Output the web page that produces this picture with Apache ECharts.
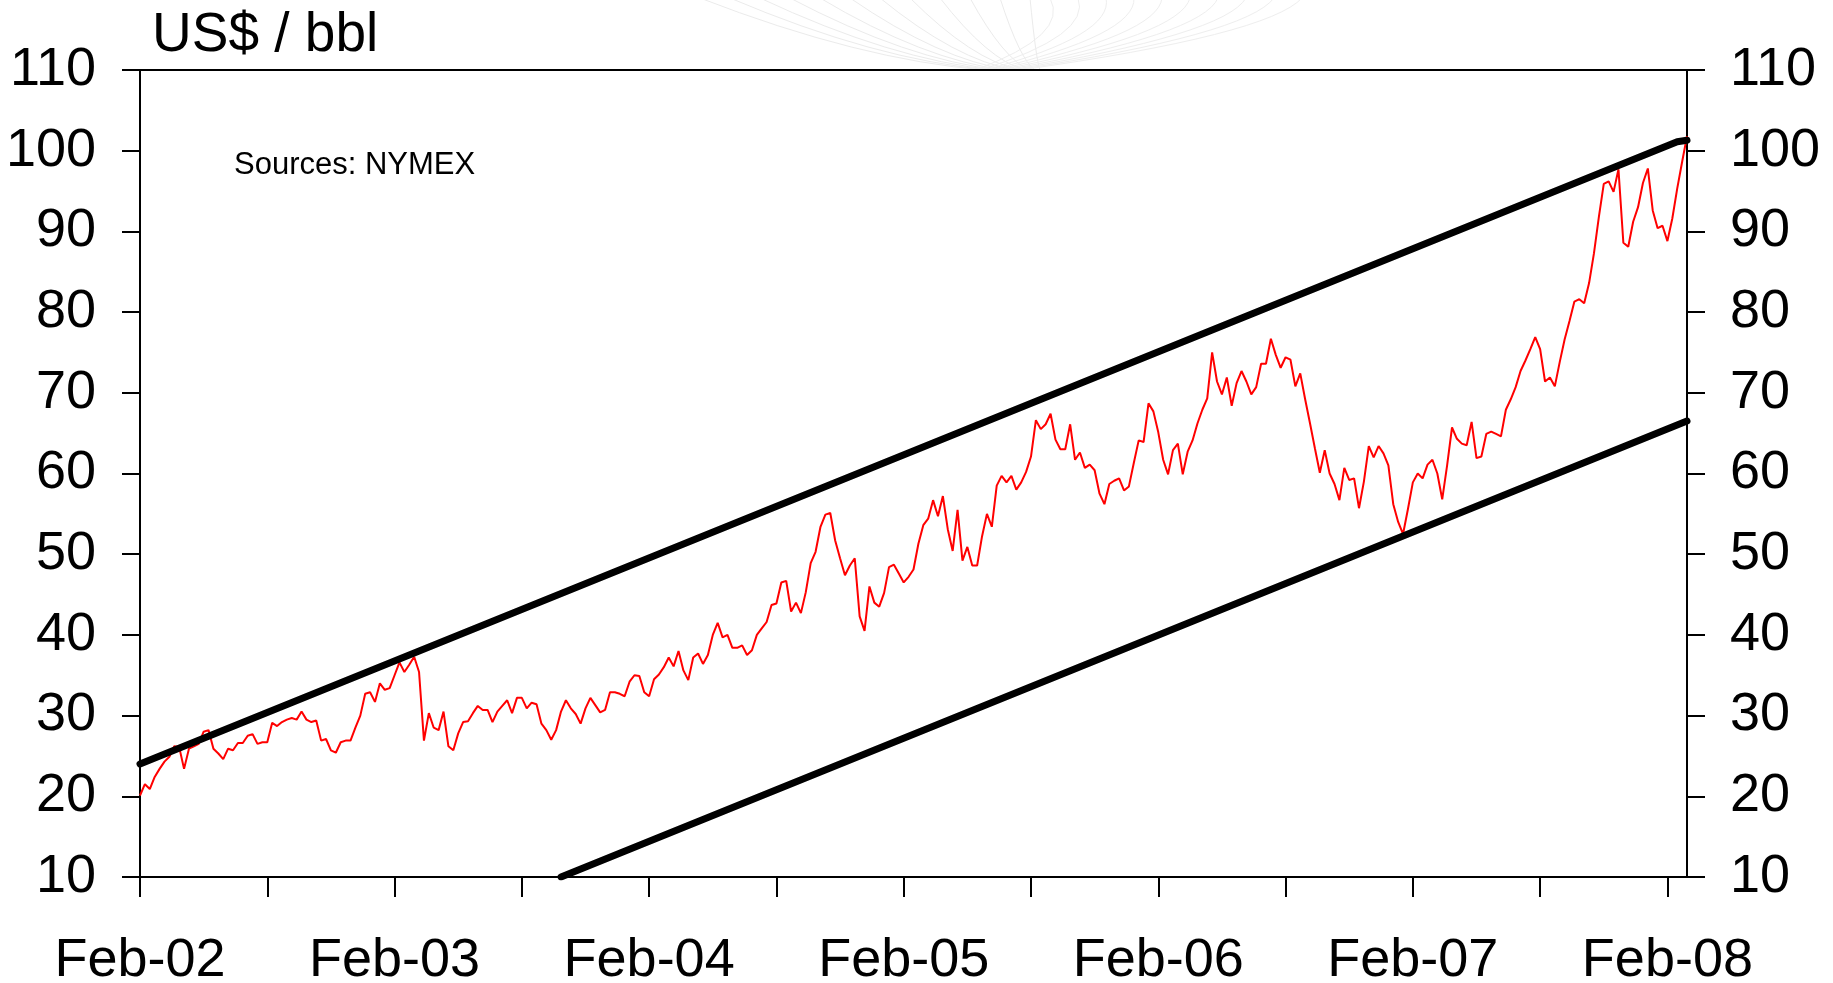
<!DOCTYPE html>
<html>
<head>
<meta charset="utf-8">
<title>US$ / bbl</title>
<script src="https://cdn.jsdelivr.net/npm/echarts@6/dist/echarts.min.js"></script>
<style>
  html, body { margin: 0; padding: 0; background: #fff; }
  #chart { width: 1833px; height: 983px; }
</style>
</head>
<body>
<div id="chart"></div>
<script>
// weekly NYMEX crude, Friday closes, first point early Feb 2002
const prices = [
  20.1, 21.5, 20.9, 22.4, 23.4, 24.3, 24.9, 26.2, 26.1, 23.4,
  25.9, 26.2, 26.5, 28.0, 28.2, 25.9, 25.3, 24.6, 25.9, 25.7,
  26.6, 26.6, 27.5, 27.7, 26.5, 26.7, 26.7, 29.1, 28.7, 29.2,
  29.5, 29.7, 29.5, 30.5, 29.5, 29.2, 29.4, 26.9, 27.1, 25.7,
  25.4, 26.7, 26.9, 26.9, 28.5, 30.0, 32.7, 32.9, 31.7, 34.0,
  33.2, 33.4, 35.0, 36.6, 35.4, 36.3, 37.3, 35.4, 26.9, 30.3,
  28.5, 28.2, 30.5, 26.2, 25.7, 27.8, 29.2, 29.3, 30.3, 31.2,
  30.7, 30.7, 29.2, 30.5, 31.2, 31.9, 30.3, 32.2, 32.2, 30.9,
  31.6, 31.4, 29.0, 28.2, 27.0, 28.2, 30.5, 31.9, 30.9, 30.2,
  29.0, 30.9, 32.2, 31.3, 30.4, 30.7, 32.9, 32.9, 32.7, 32.4,
  34.2, 35.0, 34.9, 32.9, 32.4, 34.5, 35.1, 36.0, 37.2, 36.1,
  38.0, 35.6, 34.4, 37.2, 37.7, 36.4, 37.5, 40.0, 41.5, 39.7,
  40.0, 38.4, 38.4, 38.7, 37.5, 38.1, 40.0, 40.8, 41.6, 43.7,
  43.9, 46.5, 46.7, 42.9, 44.0, 42.7, 45.3, 48.9, 50.3, 53.4,
  54.9, 55.1, 51.7, 49.5, 47.4, 48.6, 49.5, 42.3, 40.5, 46.0,
  44.0, 43.5, 45.2, 48.4, 48.7, 47.6, 46.5, 47.2, 48.1, 51.3,
  53.6, 54.4, 56.7, 54.7, 57.2, 53.1, 50.4, 55.5, 49.2, 50.9,
  48.6, 48.6, 52.2, 55.0, 53.4, 58.5, 59.7, 58.9, 59.7, 58.0,
  58.9, 60.2, 62.1, 66.6, 65.5, 66.1, 67.4, 64.2, 63.0, 63.0,
  66.1, 61.7, 62.6, 60.7, 61.1, 60.4, 57.5, 56.2, 58.7, 59.1,
  59.4, 57.9, 58.4, 61.3, 64.1, 63.9, 68.7, 67.7, 65.1, 61.7,
  59.9, 62.9, 63.7, 59.9, 62.7, 64.1, 66.2, 67.9, 69.3, 75.0,
  71.4, 69.8, 71.9, 68.4, 71.2, 72.7, 71.4, 69.8, 70.7, 73.6,
  73.6, 76.7, 74.7, 73.1, 74.4, 74.1, 70.8, 72.4, 69.2, 66.2,
  63.1, 60.1, 62.9, 60.0, 58.7, 56.7, 60.7, 59.2, 59.4, 55.7,
  59.0, 63.4, 62.0, 63.4, 62.5, 61.0, 56.2, 54.0, 52.5, 55.6,
  58.9, 60.0, 59.4, 61.1, 61.7, 60.0, 56.8, 61.0, 65.7, 64.3,
  63.7, 63.5, 66.4, 61.9, 62.1, 64.9, 65.2, 64.9, 64.6, 67.9,
  69.2, 70.7, 72.7, 74.0, 75.4, 76.9, 75.4, 71.4, 71.9, 70.8,
  73.8, 76.6, 78.9, 81.3, 81.6, 81.1, 83.6, 87.3, 91.8, 95.9,
  96.2, 94.9, 97.7, 88.6, 88.1, 91.2, 93.0, 96.0, 97.8, 92.6,
  90.4, 90.7, 88.8, 91.6, 95.3, 98.6, 101.8
];

// trend channel, [week index, price]
const upperTrend = [[0, 24.0], [314, 101.1], [316, 101.3]];
const lowerTrend = [[86, 10.0], [316, 66.5]];

const yearLabels = ['Feb-02', 'Feb-03', 'Feb-04', 'Feb-05', 'Feb-06', 'Feb-07', 'Feb-08'];
const weeks = prices.map((p, i) => i);

const font = 'Liberation Sans, Arial, sans-serif';

// faint swoosh at the top
let swoosh = [];
for (let i = 0; i < 12; i++) {
  swoosh.push({
    type: 'bezierCurve',
    silent: true,
    z: -10,
    shape: { x1: 700 + i * 30, y1: -2, cpx1: 860 + i * 16, cpy1: 60, x2: 985 + i * 5, y2: 70 },
    style: { stroke: '#ebebeb', lineWidth: 1, fill: null }
  });
}
for (let i = 0; i < 10; i++) {
  swoosh.push({
    type: 'bezierCurve',
    silent: true,
    z: -10,
    shape: { x1: 1050 + i * 28, y1: -2, cpx1: 1070 + i * 22, cpy1: 35, x2: 975 + i * 5, y2: 70 },
    style: { stroke: '#eeeeee', lineWidth: 1, fill: null }
  });
}

let myChart = echarts.init(document.getElementById('chart'));

let option = {
  animation: false,
  backgroundColor: '#fff',
  grid: {
    left: 140,
    right: 146,
    top: 70,
    bottom: 106,
    show: true,
    borderColor: '#000',
    borderWidth: 2,
    outerBoundsMode: 'none'
  },
  graphic: swoosh.concat([
    {
      type: 'text',
      left: 152,
      top: 8,
      style: { text: 'US$ / bbl', font: '55px ' + font, fill: '#000' }
    },
    {
      type: 'text',
      left: 234,
      top: 150,
      style: { text: 'Sources: NYMEX', font: '31px ' + font, fill: '#000' }
    }
  ]),
  xAxis: {
    type: 'category',
    data: weeks,
    boundaryGap: false,
    axisLine: { lineStyle: { color: '#000', width: 2 } },
    axisTick: {
      show: true,
      length: 20,
      interval: (i) => i % 26 === 0,
      lineStyle: { color: '#000', width: 2 }
    },
    axisLabel: {
      interval: (i) => i % 52 === 0,
      formatter: (v, i) => yearLabels[i / 52] || '',
      color: '#000',
      fontSize: 54,
      fontFamily: font,
      margin: 57
    },
    splitLine: { show: false }
  },
  yAxis: [
    {
      type: 'value',
      position: 'left',
      min: 10,
      max: 110,
      interval: 10,
      axisLine: { show: true, lineStyle: { color: '#000', width: 2 } },
      axisTick: { show: true, length: 18, lineStyle: { color: '#000', width: 2 } },
      axisLabel: { color: '#000', fontSize: 54, fontFamily: font, margin: 44 },
      splitLine: { show: false }
    },
    {
      type: 'value',
      position: 'right',
      min: 10,
      max: 110,
      interval: 10,
      axisLine: { show: true, lineStyle: { color: '#000', width: 2 } },
      axisTick: { show: true, length: 18, lineStyle: { color: '#000', width: 2 } },
      axisLabel: { color: '#000', fontSize: 54, fontFamily: font, margin: 43 },
      splitLine: { show: false }
    }
  ],
  series: [
    {
      name: 'WTI',
      type: 'line',
      data: prices,
      symbol: 'none',
      color: '#ff0000',
      lineStyle: { color: '#ff0000', width: 2 },
      z: 2
    },
    {
      name: 'upper',
      type: 'line',
      data: upperTrend,
      symbol: 'none',
      color: '#000',
      lineStyle: { color: '#000', width: 7, cap: 'round' },
      z: 3
    },
    {
      name: 'lower',
      type: 'line',
      data: lowerTrend,
      symbol: 'none',
      color: '#000',
      lineStyle: { color: '#000', width: 7, cap: 'round' },
      z: 3
    }
  ]
};

myChart.setOption(option, true);
window.onresize = myChart.resize;
</script>
</body>
</html>
